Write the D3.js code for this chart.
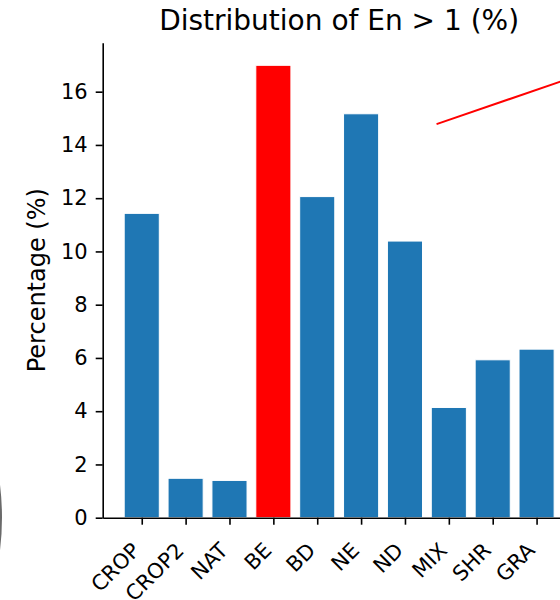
<!DOCTYPE html>
<html>
<head>
<meta charset="utf-8">
<script src="https://cdn.jsdelivr.net/npm/d3@7"></script>
<style>
  html, body { margin: 0; padding: 0; background: #fff; }
  svg { display: block; font-family: "DejaVu Sans", sans-serif; }
</style>
</head>
<body>
<svg id="chart" width="560" height="600"></svg>
<script>
// ---- data ----
const categories = ["CROP", "CROP2", "NAT", "BE", "BD", "NE", "ND", "MIX", "SHR", "GRA"];
const percentages = [11.43, 1.48, 1.40, 16.99, 12.06, 15.17, 10.39, 4.14, 5.93, 6.33];
const highlight = ["BE"];
const yTicks = [0, 2, 4, 6, 8, 10, 12, 14, 16];
const chartTitle = "Distribution of En > 1 (%)";
const yLabel = "Percentage (%)";
// annotation line (data coords: category index, percent)
const annotX = [6.72, 10.2];
const annotY = [14.78, 16.75];

// ---- layout ----
(function () {
const svg = d3.select("#chart");
const plotLeft = 102.7, plotBottom = 517.7, plotTop = 42.7, step = 43.87;
const n = categories.length;
const barW = 0.8;
const pad = 0.05 * (n - 1 + barW);
const xMin = -barW / 2 - pad, xMax = n - 1 + barW / 2 + pad;
const x = d3.scaleLinear().domain([xMin, xMax]).range([plotLeft, plotLeft + (xMax - xMin) * step]);
const yMax = d3.max(percentages) * 1.05;
const y = d3.scaleLinear().domain([0, yMax]).range([plotBottom, plotTop]);

// faint arc at left edge (part of neighbouring panel)
svg.append("circle")
  .attr("cx", -261).attr("cy", 517.5).attr("r", 262)
  .attr("fill", "none").attr("stroke", "#6a6a6a").attr("stroke-width", 2);

// bars
svg.append("g").selectAll("rect")
  .data(categories.map((c, i) => ({ c, i, v: percentages[i] })))
  .join("rect")
  .attr("x", d => x(d.i - barW / 2))
  .attr("width", d => x(d.i + barW / 2) - x(d.i - barW / 2))
  .attr("y", d => y(d.v))
  .attr("height", d => y(0) - y(d.v))
  .attr("fill", d => highlight.includes(d.c) ? "#ff0000" : "#1f77b4")
  .attr("stroke", "#ffffff")
  .attr("stroke-width", 1);

// y axis
const yAxis = svg.append("g")
  .attr("transform", `translate(${plotLeft},0)`)
  .call(d3.axisLeft(y).tickValues(yTicks).tickFormat(d3.format("d")).tickSize(7).tickPadding(8).tickSizeOuter(0));
yAxis.select(".domain").attr("stroke", "#000").attr("stroke-width", 1.6);
yAxis.selectAll(".tick line").attr("stroke", "#000").attr("stroke-width", 1.6);
yAxis.selectAll(".tick text").attr("font-size", 21).attr("fill", "#000")
  .attr("font-family", "DejaVu Sans");

// x axis
const xAxis = svg.append("g")
  .attr("transform", `translate(0,${plotBottom})`)
  .call(d3.axisBottom(x).tickValues(d3.range(n)).tickFormat(i => categories[i]).tickSize(7).tickSizeOuter(0));
xAxis.select(".domain").attr("stroke", "#000").attr("stroke-width", 1.6);
xAxis.selectAll(".tick line").attr("stroke", "#000").attr("stroke-width", 1.6);
xAxis.selectAll(".tick text")
  .attr("font-size", 21).attr("fill", "#000").attr("font-family", "DejaVu Sans")
  .attr("text-anchor", "end")
  .attr("y", 0).attr("dy", 0)
  .attr("transform", "translate(-1,34) rotate(-45)");

// annotation line
svg.append("path")
  .attr("d", d3.line().x(d => x(d[0])).y(d => y(d[1]))(annotX.map((v, i) => [v, annotY[i]])))
  .attr("fill", "none").attr("stroke", "#ff0000").attr("stroke-width", 2);

// title
svg.append("text")
  .attr("x", (x.range()[0] + x.range()[1]) / 2).attr("y", 30)
  .attr("text-anchor", "middle").attr("font-size", 28).attr("fill", "#000")
  .text(chartTitle);

// y label
svg.append("text")
  .attr("transform", `translate(45,${(plotTop + plotBottom) / 2}) rotate(-90)`)
  .attr("text-anchor", "middle").attr("font-size", 24).attr("fill", "#000")
  .text(yLabel);
})();
</script>
</body>
</html>
